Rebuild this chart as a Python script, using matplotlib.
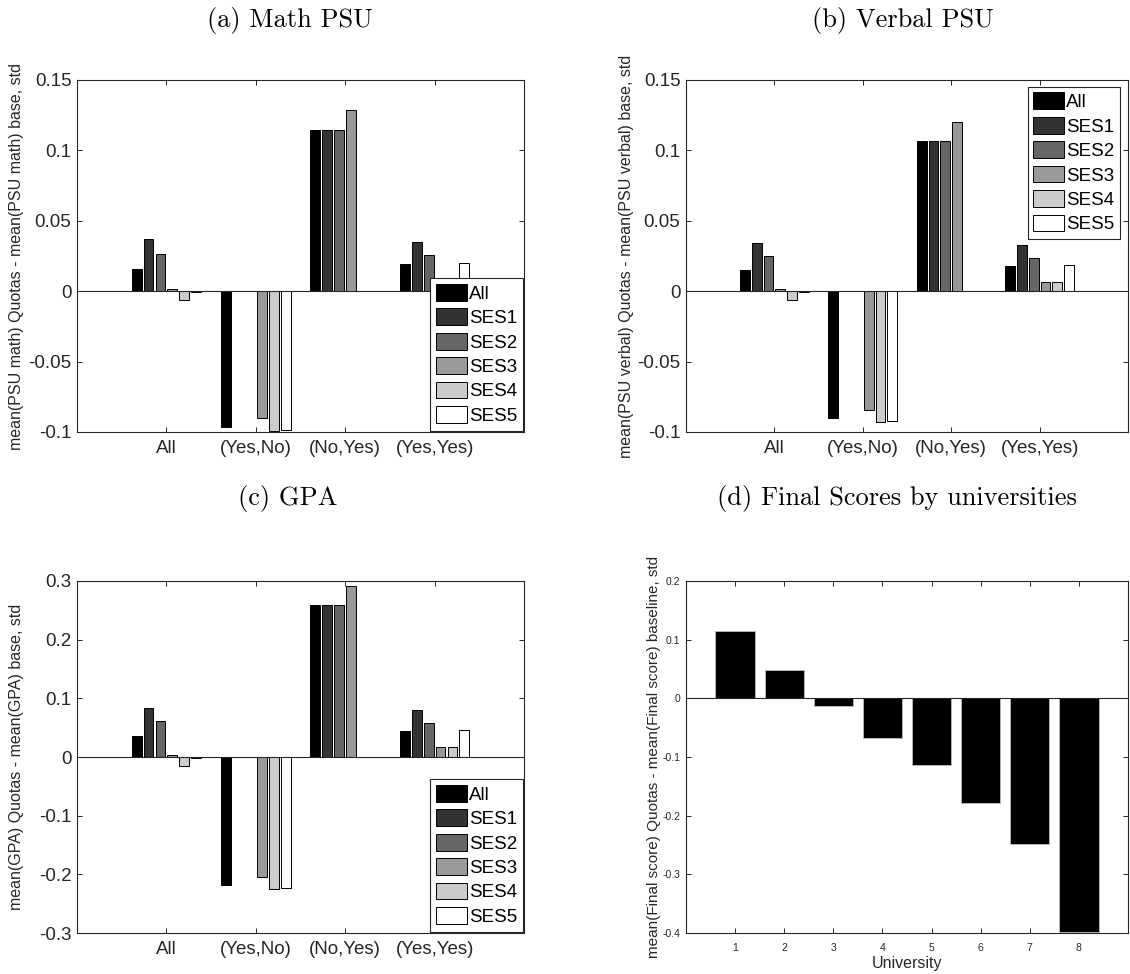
import numpy as np
import matplotlib
matplotlib.use("Agg")
import matplotlib.pyplot as plt
from matplotlib.ticker import FuncFormatter

plt.rcParams['font.family'] = ['Liberation Sans', 'DejaVu Sans']
plt.rcParams['axes.unicode_minus'] = False

# group labels and series names
groups = ['All', '(Yes,No)', '(No,Yes)', '(Yes,Yes)']
series = ['All', 'SES1', 'SES2', 'SES3', 'SES4', 'SES5']
shades = ['#000000', '#333333', '#666666', '#999999', '#cccccc', '#ffffff']

# each row is one group, columns follow `series`
math_psu = [[0.0156, 0.0368, 0.0267, 0.0017, -0.0066, -0.0007],
            [-0.0968, 0.0002, 0.0002, -0.0904, -0.0996, -0.0985],
            [0.1145, 0.1145, 0.1145, 0.1289, 0.0002, 0.0002],
            [0.0191, 0.0349, 0.0255, 0.0070, 0.0070, 0.0201]]
verbal_psu = [[0.0149, 0.0345, 0.0248, 0.0014, -0.0061, -0.0009],
              [-0.0904, 0.0002, 0.0002, -0.0843, -0.0930, -0.0923],
              [0.1069, 0.1069, 0.1069, 0.1204, 0.0002, 0.0002],
              [0.0177, 0.0326, 0.0238, 0.0068, 0.0068, 0.0187]]
gpa = [[0.0358, 0.0840, 0.0607, 0.0040, -0.0148, -0.0017],
       [-0.2190, 0.0005, 0.0005, -0.2040, -0.2247, -0.2236],
       [0.2588, 0.2588, 0.2588, 0.2923, 0.0005, 0.0005],
       [0.0443, 0.0795, 0.0585, 0.0165, 0.0165, 0.0454]]

universities = [1, 2, 3, 4, 5, 6, 7, 8]
final_score = [0.1147, 0.0488, -0.0125, -0.0670, -0.1135, -0.1776, -0.2480, -0.3980]

AX_COL = '#262626'
W, H = 1130, 974


def px_axes(fig, x0, y0, x1, y1):
    # axes from pixel box (top-left origin)
    return fig.add_axes([x0 / W, 1 - y1 / H, (x1 - x0) / W, (y1 - y0) / H])


def style(ax, fs):
    for s in ax.spines.values():
        s.set_color(AX_COL)
        s.set_linewidth(0.8)
    ax.tick_params(direction='in', top=True, right=True, length=3.5, width=0.7,
                   colors=AX_COL, labelsize=fs, pad=4)
    ax.yaxis.set_major_formatter(FuncFormatter(lambda v, p: '%g' % round(v, 4)))
    ax.axhline(0, color=AX_COL, lw=0.8, zorder=3)


def grouped(ax, data, ylim, yticks, ylabel, loc):
    data = np.array(data)
    x = np.arange(1, len(groups) + 1)
    step = 0.8 / len(series)
    for i, name in enumerate(series):
        off = (i - (len(series) - 1) / 2) * step
        ax.bar(x + off, data[:, i], width=0.11, color=shades[i],
               edgecolor='black', linewidth=0.7, label=name, zorder=2)
    ax.set_xlim(0, 5)
    ax.set_ylim(*ylim)
    ax.set_xticks(x)
    ax.set_xticklabels(groups)
    ax.set_yticks(yticks)
    style(ax, 13.5)
    ax.tick_params(axis='x', pad=6)
    ax.set_ylabel(ylabel, fontsize=11.5, color=AX_COL)
    ax.yaxis.set_label_coords(-0.118, 0.5)
    leg = ax.legend(loc=loc, fontsize=13.5, frameon=True, fancybox=False,
                    edgecolor=AX_COL, framealpha=1, borderpad=0.3,
                    labelspacing=0.3, handlelength=1.65, handleheight=1.0,
                    handletextpad=0.1, borderaxespad=0.08)
    leg.get_frame().set_linewidth(0.8)


fig = plt.figure(figsize=(W / 100, H / 100), dpi=100)

ax_a = px_axes(fig, 77, 80, 524, 432)
grouped(ax_a, math_psu, (-0.1, 0.15), [-0.1, -0.05, 0, 0.05, 0.1, 0.15],
        'mean(PSU math) Quotas - mean(PSU math) base, std', 'lower right')

ax_b = px_axes(fig, 686, 80, 1128, 432)
grouped(ax_b, verbal_psu, (-0.1, 0.15), [-0.1, -0.05, 0, 0.05, 0.1, 0.15],
        'mean(PSU verbal) Quotas - mean(PSU verbal) base, std', 'upper right')
ax_b.yaxis.set_label_coords(-0.118, 0.5)
ax_b.legend_.set_bbox_to_anchor((0.985, 0.985))

ax_c = px_axes(fig, 77, 581, 524, 933)
grouped(ax_c, gpa, (-0.3, 0.3), [-0.3, -0.2, -0.1, 0, 0.1, 0.2, 0.3],
        'mean(GPA) Quotas - mean(GPA) base, std', 'lower right')

ax_d = px_axes(fig, 686, 581, 1128, 933)
ax_d.bar(universities, final_score, width=0.8, color='black',
         edgecolor='#bbbbbb', linewidth=0.6, zorder=2)
ax_d.set_xlim(0, 9)
ax_d.set_ylim(-0.4, 0.2)
ax_d.set_xticks(universities)
ax_d.set_yticks([-0.4, -0.3, -0.2, -0.1, 0, 0.1, 0.2])
style(ax_d, 7.5)
ax_d.tick_params(axis='x', pad=7)
ax_d.set_ylabel('mean(Final score) Quotas - mean(Final score) baseline, std',
                fontsize=11, color=AX_COL)
ax_d.yaxis.set_label_coords(-0.056, 0.5)
ax_d.set_xlabel('University', fontsize=11.5, color=AX_COL)
ax_d.xaxis.set_label_coords(0.5, -0.066)

# subfigure captions
captions = [('(a) Math PSU', 290, 20), ('(b) Verbal PSU', 903, 20),
            ('(c) GPA', 288, 499), ('(d) Final Scores by universities', 897, 499)]
for txt, cx, cy in captions:
    fig.text(cx / W, 1 - cy / H, txt, family='cmr10', fontsize=19,
             ha='center', va='center')

fig.savefig('out.png', dpi=100)
